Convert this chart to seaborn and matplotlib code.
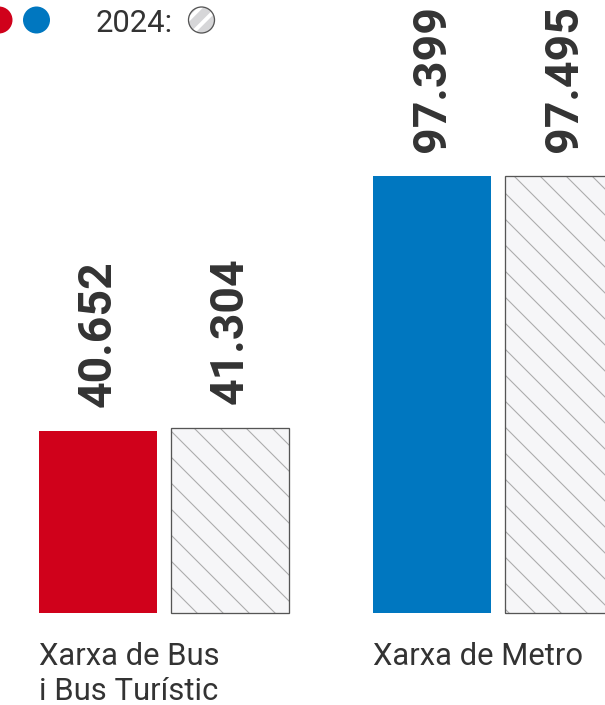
import matplotlib
matplotlib.use("Agg")
import matplotlib.pyplot as plt
from matplotlib.patches import Circle, Rectangle
from matplotlib.transforms import IdentityTransform
import seaborn as sns
import pandas as pd

# data
categories = ["Xarxa de Bus\ni Bus Turístic", "Xarxa de Metro"]
years = ["2025", "2024"]
val_2025 = [40652, 97399]
val_2024 = [41304, 97495]
colors_2025 = ["#d0011b", "#0077c0"]

DPI = 156  # hatch spacing in Agg is tied to dpi
W, H = 605, 705


def pt(px):
    return px * 72 / DPI


sns.set_theme(style="white")
plt.rcParams["font.family"] = ["Roboto", "DejaVu Sans"]
plt.rcParams["hatch.linewidth"] = 0.5

df = pd.DataFrame({
    "cat": categories * 2,
    "year": [years[0]] * 2 + [years[1]] * 2,
    "value": val_2025 + val_2024,
})

fig = plt.figure(figsize=(W / DPI, H / DPI), dpi=DPI)
ax = fig.add_axes([0, 0, 1, 1])

sns.barplot(data=df, x="cat", y="value", hue="year", hue_order=years,
            width=0.79, gap=0.1, legend=False, ax=ax, errorbar=None)

# 2025 bars: one colour per network
for p, c in zip(ax.containers[0], colors_2025):
    p.set_facecolor(c)
    p.set_edgecolor("none")
    p.set_linewidth(0)

# 2024 bars: light hatch + dark outline
for p in ax.containers[1]:
    p.set_facecolor("#f6f6f8")
    p.set_edgecolor("#ababab")
    p.set_hatch("\\\\")
    p.set_linewidth(0)
    ax.add_patch(Rectangle(p.get_xy(), p.get_width(), p.get_height(),
                           fill=False, ec="#555555", lw=pt(1.3), zorder=3))

# value labels
for cont, vals in zip(ax.containers, [val_2025, val_2024]):
    for p, v in zip(cont, vals):
        ax.annotate(f"{v:,}".replace(",", "."),
                    xy=(p.get_x() + p.get_width() / 2, p.get_height()),
                    xytext=(0, pt(24)), textcoords="offset points",
                    rotation=90, ha="center", va="bottom",
                    fontsize=pt(46.5), fontweight="bold", color="#333333")

# category labels under the first bar of each group
for p, cat in zip(ax.containers[0], categories):
    ax.annotate(cat, xy=(p.get_x(), 0), xytext=(0, -pt(29)),
                textcoords="offset points", ha="left", va="top",
                fontsize=pt(31), color="#333333", linespacing=1.25)

px_per_unit = 437 / 97399
ax.set_xlim(-164 / 334, 441 / 334)
ax.set_ylim(-92 / px_per_unit, 613 / px_per_unit)
ax.axis("off")

# legend along the top
for cx, c in [(-1, colors_2025[0]), (36.5, colors_2025[1])]:
    fig.add_artist(Circle((cx, H - 20), 13.5, transform=IdentityTransform(),
                          fc=c, ec="none"))
fig.text(96 / W, 1 - 32 / H, "2024:", ha="left", va="baseline",
         fontsize=pt(31), color="#333333")
with plt.rc_context({"hatch.linewidth": 1.8}):
    fig.add_artist(Circle((201.5, H - 20), 13, transform=IdentityTransform(),
                          fc="#d6d6d8", ec="white", lw=0, hatch="///"))
fig.add_artist(Circle((201.5, H - 20), 13, transform=IdentityTransform(),
                      fill=False, ec="#555555", lw=pt(1.3)))

fig.savefig("out.png", dpi=DPI)
